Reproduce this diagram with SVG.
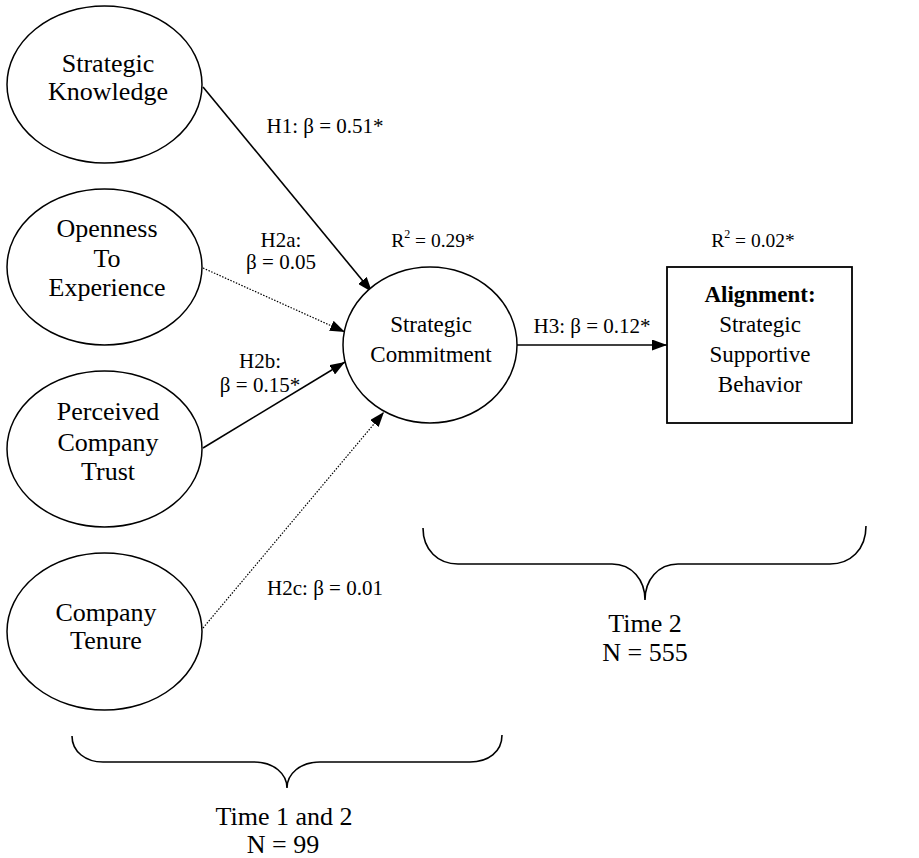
<svg xmlns="http://www.w3.org/2000/svg" width="919" height="858" viewBox="0 0 919 858">
<style>
  text { font-family: "Liberation Serif", "Times New Roman", serif; fill: #000; text-anchor: middle; }
  .big { font-size: 26px; }
  .mid { font-size: 23px; }
  .lbl { font-size: 21px; }
  .r2 { font-size: 19.5px; }
  .node { fill: #fff; stroke: #000; stroke-width: 1.5; }
  .solid { fill: none; stroke: #000; stroke-width: 1.6; }
  .dot { fill: none; stroke: #000; stroke-width: 1.2; stroke-dasharray: 1.5 1.5; }
  .brace { fill: none; stroke: #000; stroke-width: 1.6; }
</style>
<defs>
  <marker id="arr" viewBox="0 0 15 11" refX="15" refY="5.5" markerWidth="15" markerHeight="11" markerUnits="userSpaceOnUse" orient="auto">
    <path d="M0,0 L15,5.5 L0,11 z" fill="#000"/>
  </marker>
</defs>
<rect width="919" height="858" fill="#fff"/>

<g id="connectors">
  <line class="solid" x1="203" y1="87" x2="372" y2="292" marker-end="url(#arr)"/>
  <line class="dot" x1="203" y1="268" x2="345" y2="332" marker-end="url(#arr)"/>
  <line class="solid" x1="203" y1="448" x2="345" y2="362" marker-end="url(#arr)"/>
  <line class="dot" x1="203" y1="628" x2="384" y2="412" marker-end="url(#arr)"/>
  <line class="solid" x1="517" y1="345" x2="667" y2="345" marker-end="url(#arr)"/>
  <text class="lbl" x="325" y="133">H1: β = 0.51*</text>
  <text class="lbl" x="281" y="247">H2a:</text>
  <text class="lbl" x="281" y="269">β = 0.05</text>
  <text class="lbl" x="260" y="368">H2b:</text>
  <text class="lbl" x="260" y="392">β = 0.15*</text>
  <text class="lbl" x="325" y="595">H2c: β = 0.01</text>
  <text class="lbl" x="592" y="333">H3: β = 0.12*</text>
</g>

<g id="strategic-knowledge">
  <ellipse class="node" cx="104.5" cy="84.5" rx="97.5" ry="78.5"/>
  <text class="big" x="108" y="72">Strategic</text>
  <text class="big" x="108" y="100">Knowledge</text>
</g>

<g id="openness">
  <ellipse class="node" cx="104.5" cy="267" rx="97.5" ry="78"/>
  <text class="big" x="107" y="237">Openness</text>
  <text class="big" x="107" y="267">To</text>
  <text class="big" x="107" y="296">Experience</text>
</g>

<g id="perceived-trust">
  <ellipse class="node" cx="104.5" cy="449" rx="97.5" ry="78"/>
  <text class="big" x="108" y="420">Perceived</text>
  <text class="big" x="108" y="451">Company</text>
  <text class="big" x="108" y="480">Trust</text>
</g>

<g id="company-tenure">
  <ellipse class="node" cx="104.5" cy="631.5" rx="97.5" ry="78.5"/>
  <text class="big" x="106" y="621">Company</text>
  <text class="big" x="106" y="649">Tenure</text>
</g>

<g id="strategic-commitment">
  <ellipse class="node" cx="430" cy="345" rx="87" ry="78"/>
  <text class="mid" x="431" y="332">Strategic</text>
  <text class="mid" x="431" y="362">Commitment</text>
  <text class="r2" x="433" y="247">R<tspan font-size="12" dy="-9">2</tspan><tspan dy="9"> = 0.29*</tspan></text>
</g>

<g id="alignment">
  <rect x="667" y="267" width="185" height="156" fill="#fff" stroke="#000" stroke-width="1.8"/>
  <text class="mid" x="760" y="302" font-weight="bold">Alignment:</text>
  <text class="mid" x="760" y="332">Strategic</text>
  <text class="mid" x="760" y="362">Supportive</text>
  <text class="mid" x="760" y="392">Behavior</text>
  <text class="r2" x="753" y="247">R<tspan font-size="12" dy="-9">2</tspan><tspan dy="9"> = 0.02*</tspan></text>
</g>

<g id="time2">
  <path class="brace" d="M423,528 C423,550 438,564 458,564 L612,564 C632,564 645,580 645,600 C645,580 658,564 678,564 L830,564 C850,564 866,550 866,526"/>
  <text class="big" x="645" y="632">Time 2</text>
  <text class="big" x="645" y="661">N = 555</text>
</g>

<g id="time1and2">
  <path class="brace" d="M72,736 C72,752 86,762 103,762 L254,762 C274,762 287,774 287,788 C287,774 300,762 320,762 L470,762 C488,762 502,752 502,735"/>
  <text class="big" x="284" y="825">Time 1 and 2</text>
  <text class="big" x="283" y="853">N = 99</text>
</g>
</svg>
